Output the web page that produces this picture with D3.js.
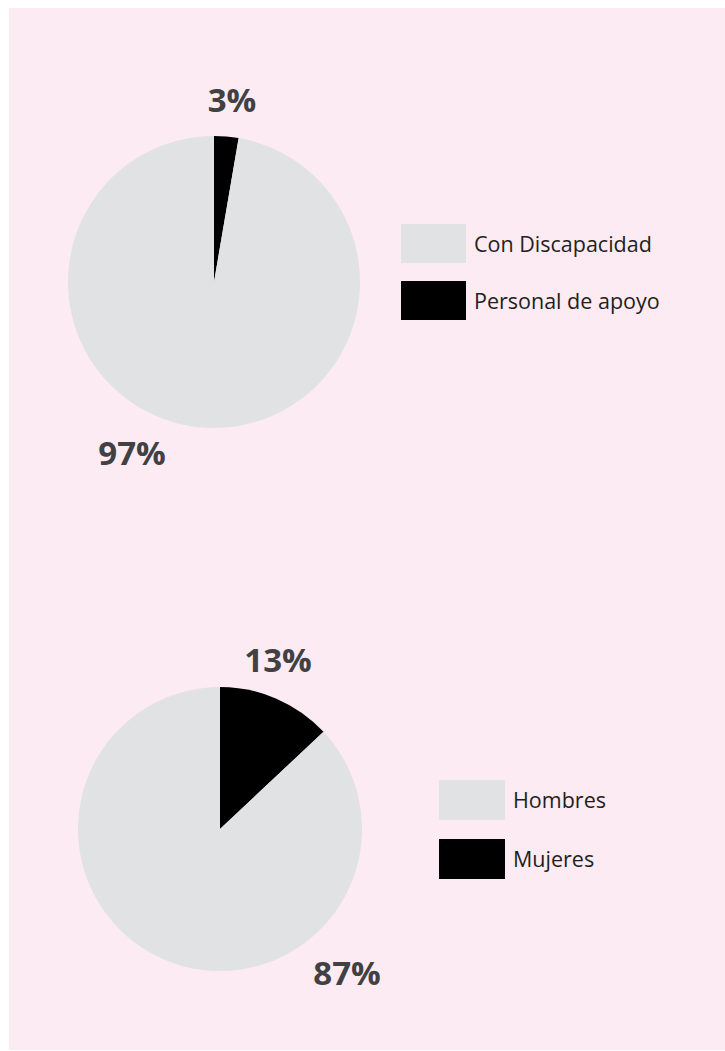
<!DOCTYPE html>
<html>
<head>
<meta charset="utf-8">
<script src="https://cdn.jsdelivr.net/npm/d3@7"></script>
<style>
  body { margin: 0; background: #ffffff; }
  svg { display: block; }
</style>
</head>
<body>
<svg id="chart" width="725" height="1051"></svg>
<script>
// data
const tipoLabels = ["Con Discapacidad", "Personal de apoyo"];
const tipoValues = [97.3, 2.7];
const sexoLabels = ["Hombres", "Mujeres"];
const sexoValues = [87, 13];
const sliceColors = ["#e1e2e4", "#000000"];

const svg = d3.select("#chart");

svg.append("rect")
  .attr("x", 9)
  .attr("y", 8)
  .attr("width", 716)
  .attr("height", 1042)
  .attr("fill", "#fcebf2");

//one pie + legend, the dark slice starts at 12 o'clock and goes clockwise
function drawPie(labels, values, opt) {

  const data = labels.map((d, i) => ({ name: d, value: values[i] }));

  const color = d3.scaleOrdinal()
    .domain(labels)
    .range(sliceColors);

  // dark slice first so it sits right of 12 o'clock
  const pie = d3.pie()
    .sort(null)
    .value(d => d.value);

  const ordered = [data[1], data[0]];

  const arc = d3.arc()
    .innerRadius(0)
    .outerRadius(opt.r);

  const g = svg.append("g")
    .attr("transform", `translate(${opt.cx},${opt.cy})`);

  g.selectAll("path")
    .data(pie(ordered))
    .join("path")
    .attr("d", arc)
    .attr("fill", d => color(d.data.name));

  // percentage labels
  g.selectAll("text.pct")
    .data(ordered)
    .join("text")
    .attr("class", "pct")
    .attr("x", (d, i) => opt.labelPos[i][0])
    .attr("y", (d, i) => opt.labelPos[i][1])
    .attr("text-anchor", "middle")
    .attr("font-family", "'Open Sans', sans-serif")
    .attr("font-weight", "bold")
    .attr("font-size", "33px")
    .attr("fill", "#414042")
    .text(d => Math.round(d.value) + "%");

  // legend
  const leg = svg.append("g")
    .attr("transform", `translate(${opt.legX},${opt.legY})`);

  const item = leg.selectAll("g")
    .data(data)
    .join("g")
    .attr("transform", (d, i) => `translate(0,${i * opt.legStep})`);

  item.append("rect")
    .attr("width", opt.boxW)
    .attr("height", opt.boxH)
    .attr("fill", d => color(d.name));

  item.append("text")
    .attr("x", opt.boxW + 8)
    .attr("y", opt.boxH / 2 + 8)
    .attr("font-family", "'Open Sans', sans-serif")
    .attr("font-size", "21.5px")
    .attr("fill", "#231f20")
    .text(d => d.name);
}

drawPie(tipoLabels, tipoValues, {
  cx: 214, cy: 282, r: 146,
  labelPos: [[18, -170], [-82, 183]],
  legX: 401, legY: 224, legStep: 57, boxW: 65, boxH: 39
});

drawPie(sexoLabels, sexoValues, {
  cx: 220, cy: 829, r: 142,
  labelPos: [[58, -157], [127, 156]],
  legX: 439, legY: 780, legStep: 59, boxW: 66, boxH: 40
});
</script>
</body>
</html>
